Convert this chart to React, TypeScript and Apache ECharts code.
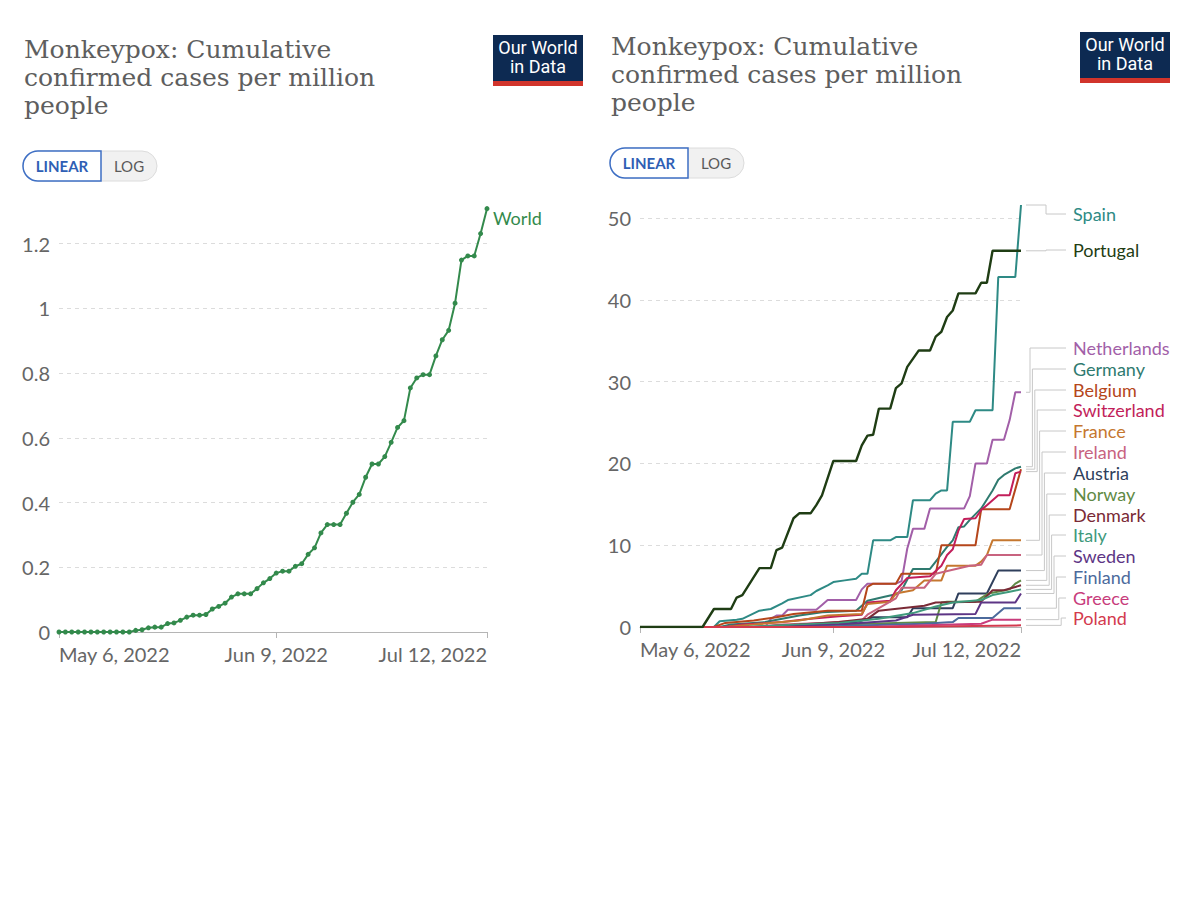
import React, { useEffect, useRef } from "react";
import * as echarts from "echarts";

// ---------- data ----------
const tickDays = [0, 34, 67];
const tickLabels = ["May 6, 2022", "Jun 9, 2022", "Jul 12, 2022"];

// World, cumulative confirmed cases per million, daily from May 6 to Jul 12, 2022
const worldValues = [
  0, 0, 0, 0, 0, 0, 0, 0, 0, 0, 0, 0,
  0.005, 0.007, 0.013, 0.015, 0.015, 0.026, 0.028, 0.036, 0.046, 0.052,
  0.052, 0.054, 0.071, 0.079, 0.089, 0.108, 0.118, 0.118, 0.118, 0.134,
  0.152, 0.165, 0.182, 0.188, 0.188, 0.203, 0.211, 0.24, 0.26, 0.306,
  0.332, 0.332, 0.332, 0.367, 0.401, 0.425, 0.478, 0.519, 0.519, 0.542,
  0.586, 0.632, 0.653, 0.754, 0.785, 0.795, 0.795, 0.853, 0.903, 0.932,
  1.016, 1.149, 1.162, 1.162, 1.231, 1.308,
];

// Countries: [day index since May 6, value]
const spainCases = [[0,0],[13,0],[14,0.7],[17,0.9],[18,1.0],[21,2.0],[23,2.2],[25,2.9],[26,3.3],[30,3.9],[31,4.4],[33,5.1],[34,5.5],[36,5.7],[38,5.9],[39,6.5],[40,6.5],[41,10.6],[44,10.6],[45,11.0],[47,11.0],[48,15.5],[51,15.5],[52,16.3],[53,16.7],[54,16.7],[55,25.1],[58,25.1],[59,26.5],[62,26.5],[63,42.8],[66,42.8],[67,51.6]];
const portugalCases = [[0,0],[11,0],[13,2.2],[16,2.2],[17,3.6],[18,3.9],[21,7.2],[23,7.2],[24,9.4],[25,9.7],[27,13.3],[28,13.9],[30,13.9],[31,14.9],[32,16.1],[34,20.3],[38,20.3],[39,22.2],[40,23.4],[41,23.5],[42,26.7],[44,26.7],[45,29.2],[46,29.8],[47,31.8],[49,33.8],[51,33.8],[52,35.5],[53,36.1],[54,37.9],[55,38.7],[56,40.8],[59,40.8],[60,42.1],[61,42.1],[62,46.0],[67,46.0]];
const netherlandsCases = [[0,0],[22,0],[23,1.0],[24,1.4],[25,1.4],[26,2.1],[31,2.1],[32,2.7],[33,3.3],[38,3.3],[39,4.6],[40,5.3],[45,5.3],[46,5.6],[47,9.6],[48,12.0],[50,12.0],[51,14.5],[57,14.5],[58,16.0],[59,20.0],[61,20.0],[62,22.9],[64,22.9],[65,25.3],[66,28.7],[67,28.7]];
const germanyCases = [[0,0],[14,0],[16,0.3],[22,0.6],[28,1.4],[32,1.8],[38,2.0],[40,3.2],[43,3.7],[45,4.0],[46,4.5],[48,7.1],[51,7.1],[52,8.0],[54,9.8],[55,10.6],[56,12.2],[57,12.3],[58,13.1],[60,14.5],[62,16.7],[63,18.0],[64,18.6],[66,19.4],[67,19.6]];
const belgiumCases = [[0,0],[13,0],[15,0.5],[20,0.8],[24,1.2],[27,1.6],[33,2.0],[39,2.0],[40,4.9],[41,5.3],[45,5.3],[46,6.5],[52,6.5],[53,10.0],[59,10.0],[60,14.4],[65,14.4],[67,19.3]];
const switzerlandCases = [[0,0],[15,0],[18,0.3],[25,0.6],[30,1.0],[35,1.3],[39,1.5],[40,3.0],[44,3.2],[45,4.5],[47,6.0],[51,6.2],[53,7.5],[54,8.8],[55,9.5],[56,11.8],[57,13.2],[59,13.3],[60,14.3],[61,14.9],[62,15.5],[63,16.1],[65,16.1],[66,18.8],[67,19.0]];
const franceCases = [[0,0],[15,0],[20,0.3],[28,0.8],[33,1.4],[39,1.6],[40,2.8],[44,3.1],[45,4.1],[48,4.5],[50,5.7],[53,5.7],[54,7.5],[59,7.5],[60,8.0],[61,8.8],[62,10.6],[67,10.6]];
const irelandCases = [[0,0],[20,0],[25,0.3],[32,0.5],[39,0.8],[40,1.5],[45,3.5],[46,4.8],[50,4.8],[52,6.5],[55,7.0],[58,7.5],[60,7.6],[61,8.8],[67,8.8]];
const austriaCases = [[0,0],[25,0],[30,0.3],[38,0.6],[41,1.2],[47,1.2],[48,2.3],[55,2.3],[56,4.1],[61,4.1],[63,6.9],[67,6.9]];
const norwayCases = [[0,0],[30,0],[35,0.3],[45,0.5],[52,0.6],[53,3.0],[54,3.1],[59,3.1],[61,4.0],[62,4.2],[65,4.6],[66,5.3],[67,5.7]];
const denmarkCases = [[0,0],[20,0],[28,0.3],[35,0.6],[40,1.0],[42,2.0],[46,2.3],[50,2.6],[52,3.0],[60,3.1],[62,4.5],[64,4.5],[66,4.9],[67,5.1]];
const italyCases = [[0,0],[18,0],[25,0.2],[35,0.5],[42,1.0],[48,1.7],[52,2.5],[55,3.0],[60,3.3],[62,3.9],[65,4.3],[67,4.6]];
const swedenCases = [[0,0],[25,0],[35,0.3],[45,0.8],[48,1.5],[59,1.6],[60,3.0],[66,3.0],[67,4.1]];
const finlandCases = [[0,0],[30,0],[40,0.2],[50,0.4],[55,0.6],[56,1.1],[62,1.1],[64,2.3],[67,2.3]];
const greeceCases = [[0,0],[40,0],[50,0.2],[60,0.4],[62,0.9],[67,0.9]];
const polandCases = [[0,0],[45,0],[55,0.1],[67,0.2]];

const countryNames = ["Spain", "Portugal", "Netherlands", "Germany", "Belgium", "Switzerland", "France", "Ireland", "Austria", "Norway", "Denmark", "Italy", "Sweden", "Finland", "Greece", "Poland"];
const countryData = [spainCases, portugalCases, netherlandsCases, germanyCases, belgiumCases, switzerlandCases, franceCases, irelandCases, austriaCases, norwayCases, denmarkCases, italyCases, swedenCases, finlandCases, greeceCases, polandCases];

// ---------- styles / layout ----------
const countryColors = ["#2e8a85", "#1f3d14", "#a25fa8", "#2f7a6f", "#b5461b", "#c21e5a", "#c5772f", "#c8637f", "#2f3f5c", "#5f8a45", "#7a2a36", "#3f9a7c", "#5d3585", "#4c6a9c", "#c83c7c", "#d33a4e"];
const labelYs = [214, 250, 348, 369, 390, 410, 431, 452, 473, 494, 515, 535, 556, 577, 598, 618];
const worldColor = "#338a4c";
const titleLines = ["Monkeypox: Cumulative", "confirmed cases per million", "people"];
const logoLines = ["Our World", "in Data"];

function headerGraphics(dx: number, dy: number) {
  const els: any[] = [];
  titleLines.forEach((line, i) => {
    els.push({
      type: "text", x: 24 + dx, y: 49 + dy + i * 28,
      style: { text: line, fontFamily: "DejaVu Serif", fontSize: 25, fill: "#5e5e5e", verticalAlign: "middle", align: "left" },
    });
  });
  // logo
  els.push({ type: "rect", shape: { x: 493 + dx, y: 35 + dy, width: 90, height: 46 }, style: { fill: "#0d2a52" } });
  els.push({ type: "rect", shape: { x: 493 + dx, y: 81 + dy, width: 90, height: 5 }, style: { fill: "#d1342b" } });
  logoLines.forEach((line, i) => {
    els.push({ type: "text", x: 538 + dx, y: 47 + dy + i * 19.5, style: { text: line, fill: "#fff", fontFamily: "Liberation Sans Narrow, Roboto", fontSize: 18, align: "center", verticalAlign: "middle" } });
  });
  // toggle
  els.push({ type: "rect", shape: { x: 23 + dx, y: 151 + dy, width: 134, height: 30, r: 15 }, style: { fill: "#f1f1f1", stroke: "#dcdcdc", lineWidth: 1 } });
  els.push({ type: "rect", shape: { x: 23 + dx, y: 151 + dy, width: 78, height: 30, r: [15, 0, 0, 15] }, style: { fill: "#fff", stroke: "#3e6fc4", lineWidth: 1.5 } });
  els.push({ type: "text", x: 62 + dx, y: 166 + dy, style: { text: "LINEAR", fill: "#2f5fb5", fontFamily: "Lato", fontWeight: "bold", fontSize: 15, align: "center", verticalAlign: "middle" } });
  els.push({ type: "text", x: 129 + dx, y: 166 + dy, style: { text: "LOG", fill: "#5a5a5a", fontFamily: "Lato", fontSize: 15, align: "center", verticalAlign: "middle" } });
  return els;
}

function xAxis(gridIndex: number) {
  return {
    type: "value", gridIndex, min: 0, max: 67,
    axisLine: { show: true, lineStyle: { color: "#b5b5b5", width: 1 } },
    axisTick: { show: true, customValues: tickDays, length: 6, lineStyle: { color: "#b5b5b5" } },
    axisLabel: {
      customValues: tickDays,
      formatter: (v: number) => { const i = tickDays.indexOf(Math.round(v)); return i >= 0 ? tickLabels[i] : ""; },
      alignMinLabel: "left", alignMaxLabel: "right",
      color: "#666", fontFamily: "Lato", fontSize: 20, margin: 12,
    },
    splitLine: { show: false },
  };
}

function yAxis(gridIndex: number, max: number, interval: number) {
  return {
    type: "value", gridIndex, min: 0, max, interval,
    axisLine: { show: false }, axisTick: { show: false },
    axisLabel: { showMaxLabel: false, color: "#666", fontFamily: "Lato", fontSize: 20, margin: 9 },
    splitLine: { show: true, showMinLine: false, showMaxLine: false, lineStyle: { color: "#dcdcdc", type: [4, 4], width: 1 } },
  };
}

export default function App() {
  const ref = useRef<HTMLDivElement>(null);
  useEffect(() => {
    const chart = echarts.init(ref.current!, null, { renderer: "svg" });
    const series: any[] = [
      {
        type: "line", xAxisIndex: 0, yAxisIndex: 0,
        data: worldValues.map((v, i) => [i, v]),
        symbol: "circle", symbolSize: 5, showSymbol: true,
        itemStyle: { color: worldColor },
        lineStyle: { color: worldColor, width: 2 },
        endLabel: { show: true, formatter: "World", color: worldColor, fontFamily: "Lato", fontSize: 18, offset: [-2, 9] },
        z: 3,
      },
    ];
    countryNames.forEach((name, i) => {
      series.push({
        type: "line", name, xAxisIndex: 1, yAxisIndex: 1,
        data: countryData[i], showSymbol: false,
        lineStyle: { color: countryColors[i], width: i === 1 ? 2.4 : 2 },
        z: 2 + (i === 1 ? 1 : 0),
      });
    });
    chart.setOption({
      animation: false,
      backgroundColor: "#fff",
      textStyle: { fontFamily: "Lato" },
      grid: [
        { left: 59, top: 208, width: 428, height: 424 },
        { left: 640, top: 205, width: 381, height: 422 },
      ],
      xAxis: [xAxis(0), xAxis(1)],
      yAxis: [yAxis(0, 1.31, 0.2), yAxis(1, 51.6, 10)],
      series,
    });

    const graphics: any[] = [...headerGraphics(0, 0), ...headerGraphics(587, -3)];
    const labelX = 1073;
    countryNames.forEach((name, i) => {
      const d = countryData[i];
      const last = d[d.length - 1];
      const p = chart.convertToPixel({ gridIndex: 1 }, [last[0], last[1]]) as number[];
      const ly = labelYs[i];
      const elbowX = i < 2 ? 1046 : 1030 + (i - 2) * 2.4;
      graphics.push({
        type: "polyline",
        shape: { points: [[p[0] + 5, p[1]], [elbowX, p[1]], [elbowX, ly], [labelX - 7, ly]] },
        style: { stroke: "#c8c8c8", lineWidth: 1, fill: null },
        silent: true,
      });
      graphics.push({
        type: "text", x: labelX, y: ly,
        style: { text: name, fill: countryColors[i], fontFamily: "Lato", fontSize: 18, verticalAlign: "middle", align: "left" },
      });
    });
    chart.setOption({ graphic: graphics });
    return () => chart.dispose();
  }, []);
  return <div ref={ref} style={{ position: "absolute", left: 0, top: 0, width: 1200, height: 897, background: "#fff" }} />;
}
